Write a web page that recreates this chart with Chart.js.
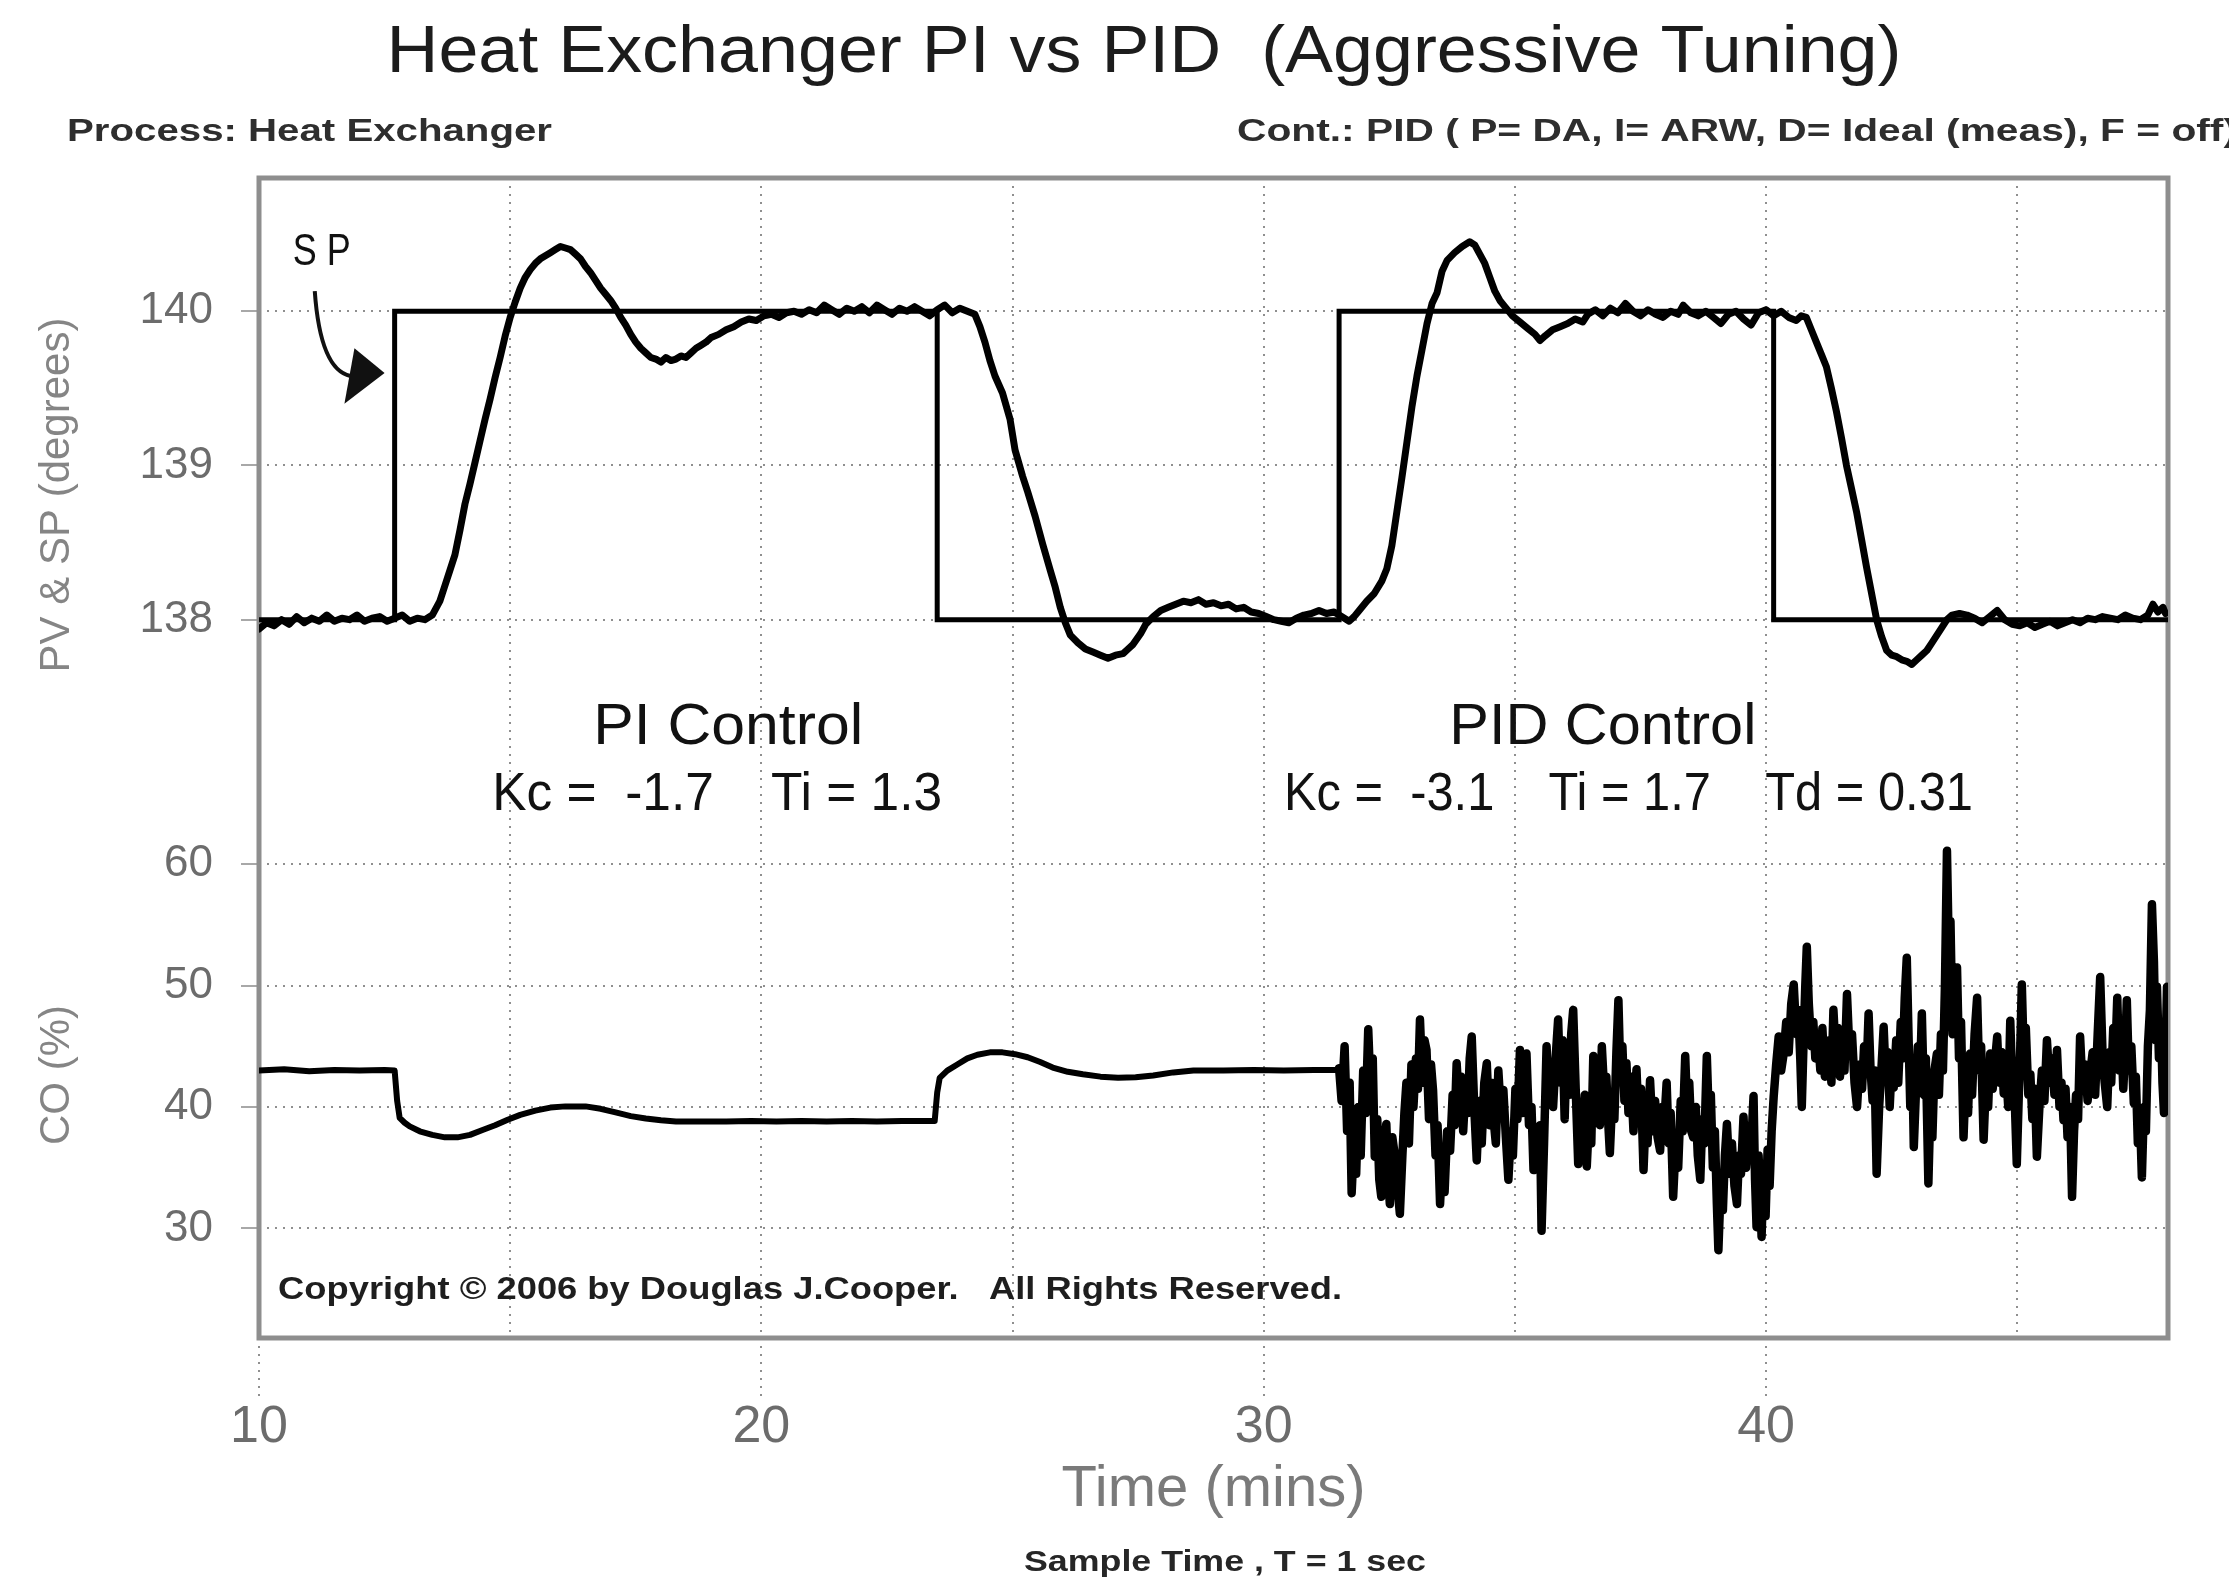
<!DOCTYPE html>
<html>
<head>
<meta charset="utf-8">
<title>Heat Exchanger PI vs PID</title>
<script src="https://cdn.jsdelivr.net/npm/chart.js@4.4.1/dist/chart.umd.min.js"></script>
<style>
    html, body { margin: 0; padding: 0; background: #ffffff; }
    canvas { display: block; }
</style>
</head>
<body>
<canvas id="chartHeatExchanger" width="2229" height="1583"></canvas>
<script>
// ---- data (time in minutes) ----
const xGridTicks = [10, 15, 20, 25, 30, 35, 40, 45];
const pvTicks = [138, 139, 140];
const coTicks = [30, 40, 50, 60];

// set point: corners of the step changes
const spPoints = [
    [10, 138], [12.7, 138], [12.7, 140], [23.5, 140], [23.5, 138],
    [31.5, 138], [31.5, 140], [40.15, 140], [40.15, 138], [48, 138]
];

// measured process variable (degrees)
const pvPoints = [
    [10.0, 137.94], [10.15, 137.98], [10.3, 137.96], [10.45, 138.00], [10.6, 137.97], [10.75, 138.02],
    [10.9, 137.98], [11.05, 138.01], [11.2, 137.99], [11.35, 138.03], [11.5, 137.99], [11.65, 138.01],
    [11.8, 138.00], [11.95, 138.03], [12.1, 137.99], [12.25, 138.01], [12.4, 138.02], [12.55, 137.99],
    [12.7, 138.01], [12.85, 138.03], [13.0, 137.99], [13.15, 138.01], [13.3, 138.00], [13.45, 138.03],
    [13.6, 138.12], [13.7, 138.22], [13.8, 138.32], [13.9, 138.42], [14.0, 138.58], [14.1, 138.75],
    [14.2, 138.88], [14.3, 139.02], [14.4, 139.16], [14.5, 139.30], [14.6, 139.43], [14.7, 139.57],
    [14.8, 139.70], [14.9, 139.84], [15.0, 139.96], [15.1, 140.06], [15.2, 140.15], [15.3, 140.22],
    [15.4, 140.27], [15.5, 140.31], [15.6, 140.34], [15.7, 140.36], [15.8, 140.38], [15.9, 140.40],
    [16.0, 140.42], [16.1, 140.41], [16.2, 140.40], [16.3, 140.37], [16.4, 140.34], [16.5, 140.29],
    [16.6, 140.25], [16.7, 140.20], [16.8, 140.15], [16.9, 140.11], [17.0, 140.07], [17.1, 140.02],
    [17.2, 139.96], [17.3, 139.91], [17.4, 139.85], [17.5, 139.80], [17.6, 139.76], [17.7, 139.73],
    [17.8, 139.70], [17.9, 139.69], [18.0, 139.67], [18.1, 139.70], [18.2, 139.68], [18.3, 139.69],
    [18.4, 139.71], [18.5, 139.70], [18.6, 139.73], [18.7, 139.76], [18.8, 139.78], [18.9, 139.80],
    [19.0, 139.83], [19.15, 139.85], [19.3, 139.88], [19.45, 139.90], [19.6, 139.93], [19.75, 139.95],
    [19.9, 139.94], [20.05, 139.97], [20.2, 139.98], [20.35, 139.96], [20.5, 139.99], [20.65, 140.00],
    [20.8, 139.98], [20.95, 140.01], [21.1, 139.99], [21.25, 140.04], [21.4, 140.01], [21.55, 139.98],
    [21.7, 140.02], [21.85, 140.00], [22.0, 140.03], [22.15, 139.99], [22.3, 140.04], [22.45, 140.01],
    [22.6, 139.98], [22.75, 140.02], [22.9, 140.00], [23.05, 140.03], [23.2, 140.00], [23.35, 139.97],
    [23.5, 140.01], [23.65, 140.04], [23.8, 139.99], [23.95, 140.02], [24.1, 140.00], [24.25, 139.98],
    [24.35, 139.90], [24.45, 139.80], [24.55, 139.68], [24.65, 139.58], [24.8, 139.47], [24.95, 139.30],
    [25.05, 139.10], [25.2, 138.93], [25.3, 138.83], [25.45, 138.67], [25.6, 138.49], [25.75, 138.32],
    [25.85, 138.21], [25.95, 138.08], [26.05, 137.98], [26.15, 137.90], [26.3, 137.85], [26.45, 137.81],
    [26.6, 137.79], [26.75, 137.77], [26.9, 137.75], [27.05, 137.77], [27.2, 137.78], [27.3, 137.81],
    [27.4, 137.84], [27.55, 137.91], [27.65, 137.97], [27.8, 138.02], [27.95, 138.06], [28.1, 138.08],
    [28.25, 138.10], [28.4, 138.12], [28.55, 138.11], [28.7, 138.13], [28.85, 138.10], [29.0, 138.11],
    [29.15, 138.09], [29.3, 138.10], [29.45, 138.07], [29.6, 138.08], [29.75, 138.05], [29.9, 138.04],
    [30.05, 138.02], [30.2, 138.00], [30.35, 137.99], [30.5, 137.98], [30.65, 138.01], [30.8, 138.03],
    [30.95, 138.04], [31.1, 138.06], [31.25, 138.04], [31.4, 138.05], [31.55, 138.02], [31.7, 137.99],
    [31.8, 138.02], [31.9, 138.06], [32.05, 138.12], [32.2, 138.17], [32.35, 138.25], [32.45, 138.33],
    [32.55, 138.48], [32.65, 138.70], [32.75, 138.92], [32.85, 139.15], [32.95, 139.38], [33.05, 139.58],
    [33.15, 139.75], [33.25, 139.92], [33.35, 140.05], [33.45, 140.12], [33.55, 140.26], [33.65, 140.33],
    [33.8, 140.38], [33.95, 140.42], [34.1, 140.45], [34.2, 140.43], [34.3, 140.37], [34.4, 140.31],
    [34.5, 140.22], [34.6, 140.13], [34.7, 140.07], [34.8, 140.03], [34.95, 139.97], [35.1, 139.93],
    [35.25, 139.89], [35.4, 139.85], [35.5, 139.81], [35.6, 139.84], [35.75, 139.88], [35.9, 139.90],
    [36.05, 139.92], [36.2, 139.95], [36.35, 139.93], [36.45, 139.98], [36.6, 140.01], [36.75, 139.97],
    [36.9, 140.02], [37.05, 139.99], [37.2, 140.05], [37.35, 140.00], [37.5, 139.97], [37.65, 140.01],
    [37.8, 139.98], [37.95, 139.96], [38.1, 140.00], [38.25, 139.98], [38.35, 140.04], [38.5, 139.99],
    [38.65, 139.97], [38.8, 140.00], [38.95, 139.96], [39.1, 139.92], [39.25, 139.98], [39.4, 140.00],
    [39.55, 139.95], [39.7, 139.91], [39.85, 139.99], [40.0, 140.01], [40.15, 139.97], [40.3, 140.00],
    [40.45, 139.96], [40.6, 139.94], [40.7, 139.97], [40.8, 139.96], [40.9, 139.88], [41.0, 139.80],
    [41.1, 139.72], [41.2, 139.64], [41.3, 139.50], [41.4, 139.35], [41.5, 139.18], [41.6, 139.00],
    [41.7, 138.85], [41.8, 138.70], [41.9, 138.52], [42.0, 138.34], [42.1, 138.17], [42.2, 138.00],
    [42.3, 137.89], [42.4, 137.80], [42.5, 137.77], [42.6, 137.76], [42.7, 137.74], [42.8, 137.73],
    [42.9, 137.71], [43.0, 137.74], [43.1, 137.77], [43.2, 137.80], [43.3, 137.85], [43.4, 137.90],
    [43.5, 137.95], [43.6, 138.00], [43.7, 138.03], [43.85, 138.04], [44.0, 138.03], [44.15, 138.01],
    [44.3, 137.98], [44.45, 138.02], [44.6, 138.06], [44.75, 138.00], [44.9, 137.97], [45.05, 137.96],
    [45.2, 137.98], [45.35, 137.95], [45.5, 137.97], [45.65, 137.99], [45.8, 137.96], [45.95, 137.98],
    [46.1, 138.00], [46.25, 137.98], [46.4, 138.01], [46.55, 138.00], [46.7, 138.02], [46.85, 138.01],
    [47.0, 138.00], [47.15, 138.03], [47.3, 138.01], [47.45, 138.00], [47.6, 138.03], [47.7, 138.10],
    [47.8, 138.05], [47.9, 138.08], [47.95, 138.04]
];

// controller output (%)
const coPoints = [
    [10.0, 43.0], [10.5, 43.1], [11.0, 42.95], [11.5, 43.05], [12.0, 43.0], [12.5, 43.05], [12.7, 43.0],
    [12.75, 40.5], [12.8, 39.1], [12.9, 38.7], [13.0, 38.4], [13.2, 38.0], [13.45, 37.7], [13.7, 37.5],
    [13.95, 37.5], [14.2, 37.7], [14.45, 38.1], [14.7, 38.5], [14.95, 38.95], [15.2, 39.35], [15.5, 39.7],
    [15.8, 39.95], [16.1, 40.05], [16.5, 40.05], [16.8, 39.85], [17.1, 39.55], [17.4, 39.25], [17.7, 39.05],
    [18.0, 38.9], [18.3, 38.8], [18.8, 38.8], [19.3, 38.8], [19.8, 38.85], [20.3, 38.8], [20.8, 38.85],
    [21.3, 38.8], [21.8, 38.85], [22.3, 38.8], [22.8, 38.85], [23.3, 38.85], [23.45, 38.85], [23.5, 41.2],
    [23.55, 42.4], [23.7, 43.0], [23.9, 43.5], [24.1, 44.0], [24.3, 44.3], [24.55, 44.5], [24.8, 44.5],
    [25.05, 44.35], [25.3, 44.1], [25.55, 43.7], [25.8, 43.25], [26.1, 42.9], [26.4, 42.7], [26.75, 42.5],
    [27.1, 42.4], [27.45, 42.45], [27.8, 42.6], [28.2, 42.85], [28.6, 43.0], [29.2, 43.0], [29.8, 43.05],
    [30.4, 43.0], [31.0, 43.05], [31.45, 43.05],
    [31.5, 43.2], [31.55, 40.5], [31.61, 45.0], [31.66, 38.0], [31.71, 42.0], [31.75, 32.9], [31.8, 37.5],
    [31.84, 34.5], [31.88, 40.0], [31.93, 36.0], [31.98, 43.0], [32.03, 39.5], [32.08, 46.4], [32.13, 41.0],
    [32.17, 44.0], [32.21, 35.9], [32.26, 39.0], [32.3, 34.0], [32.34, 32.6], [32.39, 36.5], [32.44, 38.6],
    [32.48, 34.0], [32.51, 32.0], [32.56, 37.5], [32.61, 36.0], [32.66, 33.5], [32.71, 31.2], [32.76, 36.0],
    [32.8, 39.5], [32.84, 42.0], [32.89, 37.0], [32.94, 43.5], [32.98, 40.0], [33.03, 44.0], [33.07, 41.5],
    [33.11, 47.2], [33.16, 42.0], [33.2, 45.5], [33.24, 44.7], [33.29, 39.0], [33.33, 43.5], [33.37, 41.4],
    [33.42, 36.0], [33.46, 38.5], [33.51, 32.0], [33.56, 36.5], [33.6, 33.0], [33.65, 38.0], [33.71, 36.4],
    [33.76, 41.0], [33.8, 38.5], [33.84, 43.6], [33.89, 40.0], [33.93, 42.5], [33.97, 38.0], [34.02, 42.0],
    [34.06, 39.5], [34.1, 44.0], [34.14, 45.8], [34.19, 40.0], [34.24, 35.6], [34.29, 40.5], [34.34, 37.0],
    [34.39, 42.0], [34.44, 43.6], [34.49, 38.5], [34.53, 42.0], [34.57, 39.2], [34.62, 37.0], [34.67, 43.0],
    [34.72, 39.5], [34.77, 41.4], [34.82, 37.5], [34.87, 34.0], [34.92, 38.0], [34.96, 36.0], [35.01, 41.5],
    [35.05, 39.0], [35.1, 44.7], [35.15, 39.5], [35.19, 42.0], [35.23, 44.4], [35.28, 38.5], [35.33, 40.0],
    [35.37, 34.8], [35.42, 38.0], [35.46, 35.0], [35.5, 38.5], [35.53, 29.8], [35.58, 37.0], [35.63, 45.0],
    [35.68, 40.5], [35.72, 43.0], [35.76, 40.0], [35.81, 44.0], [35.86, 47.2], [35.9, 42.0], [35.95, 45.5],
    [35.99, 39.0], [36.03, 44.7], [36.08, 41.0], [36.12, 46.0], [36.16, 48.0], [36.21, 41.5], [36.26, 35.3],
    [36.3, 40.0], [36.34, 37.5], [36.39, 41.0], [36.43, 35.1], [36.48, 39.5], [36.52, 37.0], [36.56, 44.2],
    [36.61, 40.0], [36.65, 43.0], [36.69, 38.5], [36.73, 45.0], [36.78, 41.0], [36.82, 42.5], [36.86, 38.5],
    [36.89, 36.2], [36.94, 41.0], [36.98, 39.0], [37.02, 44.5], [37.06, 48.8], [37.1, 42.5], [37.14, 45.0],
    [37.18, 40.5], [37.22, 43.6], [37.26, 39.5], [37.31, 42.5], [37.36, 38.0], [37.42, 43.1], [37.46, 39.0],
    [37.51, 41.5], [37.56, 34.8], [37.6, 39.0], [37.64, 37.0], [37.69, 42.2], [37.74, 38.0], [37.79, 40.5],
    [37.84, 37.5], [37.89, 36.4], [37.93, 40.0], [37.97, 38.5], [38.02, 42.0], [38.06, 37.0], [38.1, 39.5],
    [38.15, 32.6], [38.2, 37.0], [38.25, 35.0], [38.3, 40.5], [38.34, 38.0], [38.39, 44.2], [38.43, 39.5],
    [38.47, 42.0], [38.51, 38.0], [38.55, 37.5], [38.6, 40.0], [38.64, 36.0], [38.69, 34.0], [38.73, 39.0],
    [38.77, 37.0], [38.82, 44.2], [38.86, 39.0], [38.9, 41.0], [38.94, 35.0], [38.98, 38.0], [39.02, 32.0],
    [39.05, 28.2], [39.1, 34.0], [39.14, 31.5], [39.18, 36.0], [39.22, 38.6], [39.27, 34.5], [39.32, 37.0],
    [39.37, 33.5], [39.42, 32.0], [39.46, 36.0], [39.5, 34.5], [39.55, 39.2], [39.6, 35.0], [39.65, 38.0],
    [39.7, 36.5], [39.75, 40.9], [39.78, 34.0], [39.81, 30.1], [39.85, 36.0], [39.88, 33.0], [39.91, 29.3],
    [39.95, 35.0], [39.99, 31.0], [40.03, 36.5], [40.07, 33.5], [40.11, 38.0], [40.15, 40.8], [40.2, 43.5],
    [40.25, 45.8], [40.3, 43.0], [40.35, 44.4], [40.4, 47.0], [40.45, 44.5], [40.5, 48.5], [40.55, 50.1],
    [40.6, 46.0], [40.64, 48.0], [40.68, 44.0], [40.71, 40.0], [40.75, 46.0], [40.78, 50.0], [40.81, 53.2],
    [40.85, 48.5], [40.9, 45.0], [40.94, 47.0], [40.98, 44.0], [41.03, 46.0], [41.08, 43.0], [41.12, 46.5],
    [41.17, 42.5], [41.21, 44.0], [41.26, 45.5], [41.3, 42.0], [41.34, 48.0], [41.39, 44.0], [41.43, 46.5],
    [41.47, 42.5], [41.52, 45.0], [41.56, 43.0], [41.61, 49.3], [41.66, 44.5], [41.71, 46.0], [41.76, 42.0],
    [41.81, 40.0], [41.86, 43.5], [41.91, 41.5], [41.95, 45.0], [42.0, 43.0], [42.04, 47.7], [42.08, 43.0],
    [42.12, 40.5], [42.16, 43.0], [42.2, 34.5], [42.25, 40.0], [42.3, 43.5], [42.34, 46.6], [42.38, 42.5],
    [42.42, 44.5], [42.46, 40.0], [42.5, 43.5], [42.54, 41.6], [42.59, 45.5], [42.63, 42.0], [42.68, 47.0],
    [42.72, 44.0], [42.76, 49.0], [42.8, 52.3], [42.84, 45.0], [42.87, 40.0], [42.91, 43.5], [42.94, 36.7],
    [42.98, 41.0], [43.02, 45.0], [43.06, 42.0], [43.1, 47.7], [43.14, 41.0], [43.18, 44.0], [43.23, 33.7],
    [43.27, 40.0], [43.31, 37.5], [43.35, 43.0], [43.4, 44.4], [43.44, 41.0], [43.48, 46.0], [43.52, 43.0],
    [43.56, 50.0], [43.6, 61.1], [43.64, 52.0], [43.67, 55.3], [43.71, 46.0], [43.75, 48.5], [43.8, 51.5],
    [43.84, 44.0], [43.88, 47.0], [43.93, 37.5], [43.97, 42.0], [44.02, 39.5], [44.06, 44.4], [44.1, 41.0],
    [44.15, 46.0], [44.2, 49.0], [44.24, 43.0], [44.28, 45.0], [44.33, 37.3], [44.37, 41.5], [44.42, 40.0],
    [44.46, 44.4], [44.51, 41.5], [44.55, 43.5], [44.6, 45.8], [44.64, 42.0], [44.69, 44.5], [44.73, 41.1],
    [44.77, 43.5], [44.82, 40.0], [44.86, 47.1], [44.9, 42.0], [44.95, 40.5], [44.99, 35.3], [45.03, 41.0],
    [45.06, 45.0], [45.09, 50.1], [45.13, 44.0], [45.17, 46.5], [45.22, 41.0], [45.26, 42.7], [45.3, 39.0],
    [45.35, 41.5], [45.39, 35.9], [45.44, 40.0], [45.49, 43.0], [45.54, 40.5], [45.59, 45.5], [45.64, 42.0],
    [45.69, 44.0], [45.74, 41.0], [45.79, 44.7], [45.84, 40.0], [45.88, 42.0], [45.92, 38.9], [45.96, 41.5],
    [46.0, 37.5], [46.05, 40.0], [46.09, 32.6], [46.13, 38.0], [46.17, 41.0], [46.21, 39.0], [46.25, 45.8],
    [46.3, 41.5], [46.35, 43.5], [46.4, 40.5], [46.45, 42.7], [46.5, 44.5], [46.55, 41.0], [46.6, 46.0],
    [46.65, 50.7], [46.7, 44.0], [46.74, 42.0], [46.79, 40.0], [46.83, 44.5], [46.87, 42.0], [46.91, 46.5],
    [46.95, 44.0], [46.99, 49.0], [47.03, 43.0], [47.07, 46.0], [47.11, 41.5], [47.15, 45.0], [47.18, 48.8],
    [47.22, 43.0], [47.27, 45.0], [47.32, 40.3], [47.36, 42.5], [47.4, 37.0], [47.44, 39.5], [47.48, 34.2],
    [47.52, 40.0], [47.56, 38.0], [47.6, 45.0], [47.64, 48.0], [47.68, 56.7], [47.72, 52.0], [47.75, 45.5],
    [47.78, 49.9], [47.82, 44.0], [47.86, 47.0], [47.89, 42.0], [47.92, 39.5], [47.95, 44.0], [47.98, 49.9]
];

const FONT = "'Liberation Sans', Arial, Helvetica, sans-serif";
const FONT_NARROW = "'Liberation Sans Narrow', 'Liberation Sans', Arial, sans-serif";
const GRID = '#8f8f8f';
const PID_START = 31.5;

document.addEventListener("DOMContentLoaded", () => {
    renderChart();
});

// draws text squeezed/stretched to a given width (the original uses a condensed face)
function fitText(ctx, text, x, y, width, font, color, align) {
    ctx.save();
    ctx.font = font;
    ctx.fillStyle = color;
    ctx.textBaseline = 'middle';
    ctx.textAlign = align || 'center';
    const k = width / ctx.measureText(text).width;
    ctx.translate(x, y);
    ctx.scale(k, 1);
    ctx.fillText(text, 0, 0);
    ctx.restore();
}

const frameAndNotes = {
    id: 'frameAndNotes',
    beforeDatasetsDraw(chart) {
        const { ctx, chartArea: a } = chart;
        ctx.save();
        ctx.strokeStyle = '#8e8e8e';
        ctx.lineWidth = 5;
        ctx.strokeRect(a.left, a.top, a.right - a.left, a.bottom - a.top);
        ctx.restore();
    },
    afterDraw(chart) {
        const { ctx } = chart;
        const sx = chart.scales.x, pv = chart.scales.yPV, co = chart.scales.yCO;
        const px = t => sx.getPixelForValue(t);

        // headings
        fitText(ctx, 'Heat Exchanger PI vs PID  (Aggressive Tuning)', 1144, 54, 1515, `66px ${FONT_NARROW}`, '#1c1c1c');
        fitText(ctx, 'Process: Heat Exchanger', 67, 132, 485, `bold 32px ${FONT_NARROW}`, '#2e2e2e', 'left');
        fitText(ctx, 'Cont.: PID ( P= DA, I= ARW, D= Ideal (meas), F = off)', 1237, 132, 1000, `bold 32px ${FONT_NARROW}`, '#2e2e2e', 'left');
        fitText(ctx, 'Sample Time , T = 1 sec', 1225, 1563, 402, `bold 30px ${FONT_NARROW}`, '#262626');

        // SP label with curved arrow
        fitText(ctx, 'S P', px(11.25), pv.getPixelForValue(140.38), 58, `44px ${FONT}`, '#111');
        ctx.save();
        ctx.strokeStyle = '#111';
        ctx.fillStyle = '#111';
        ctx.lineWidth = 4;
        ctx.beginPath();
        ctx.moveTo(px(11.11), pv.getPixelForValue(140.13));
        ctx.quadraticCurveTo(px(11.22), pv.getPixelForValue(139.62), px(11.82), pv.getPixelForValue(139.58));
        ctx.stroke();
        ctx.beginPath();
        ctx.moveTo(px(12.5), pv.getPixelForValue(139.60));
        ctx.lineTo(px(11.90), pv.getPixelForValue(139.76));
        ctx.lineTo(px(11.70), pv.getPixelForValue(139.40));
        ctx.closePath();
        ctx.fill();
        ctx.restore();

        // controller labels
        fitText(ctx, 'PI Control', px(19.34), pv.getPixelForValue(137.30), 270, `58px ${FONT}`, '#111');
        fitText(ctx, 'Kc =  -1.7    Ti = 1.3', px(19.12), pv.getPixelForValue(136.86), 450, `54px ${FONT}`, '#111');
        fitText(ctx, 'PID Control', px(36.75), pv.getPixelForValue(137.30), 307, `58px ${FONT}`, '#111');
        fitText(ctx, 'Kc =  -3.1    Ti = 1.7    Td = 0.31', px(37.26), pv.getPixelForValue(136.86), 689, `54px ${FONT}`, '#111');

        fitText(ctx, 'Copyright © 2006 by Douglas J.Cooper.   All Rights Reserved.', px(10.38), co.getPixelForValue(24.9), 1064, `bold 32px ${FONT_NARROW}`, '#1e1e1e', 'left');
    }
};

function toXY(points) {
    return points.map(([t, v]) => ({ x: t, y: v }));
}

function renderChart() {
    const canvas = document.getElementById('chartHeatExchanger');
    if (!canvas) return;
    const ctx = canvas.getContext('2d');

    Chart.defaults.font.family = FONT;

    new Chart(ctx, {
        type: 'line',
        data: {
            datasets: [
                {
                    label: 'PV', data: toXY(pvPoints), yAxisID: 'yPV',
                    borderColor: '#000', borderWidth: 7, pointRadius: 0, tension: 0,
                    borderJoinStyle: 'round', borderCapStyle: 'round'
                },
                {
                    label: 'SP', data: toXY(spPoints), yAxisID: 'yPV',
                    borderColor: '#000', borderWidth: 5, pointRadius: 0, tension: 0
                },
                {
                    label: 'CO', data: toXY(coPoints), yAxisID: 'yCO',
                    borderColor: '#000', borderWidth: 6, pointRadius: 0, tension: 0,
                    borderJoinStyle: 'round', borderCapStyle: 'round',
                    // the noisy PID part looks like a heavier band in the original
                    segment: { borderWidth: c => (c.p0.parsed.x >= PID_START ? 8.5 : 6) }
                }
            ]
        },
        options: {
            responsive: false,
            animation: false,
            devicePixelRatio: 1,
            layout: { padding: { top: 178, right: 61, bottom: 55, left: 0 } },
            plugins: { legend: { display: false }, tooltip: { enabled: false }, title: { display: false } },
            scales: {
                x: {
                    type: 'linear', min: 10, max: 48,
                    afterBuildTicks: s => { s.ticks = xGridTicks.map(v => ({ value: v })); },
                    afterFit: s => { s.height = 190; },
                    ticks: {
                        autoSkip: false, maxRotation: 0, padding: 0, color: '#6c6c6c',
                        font: { size: 52, lineHeight: 1 },
                        callback: v => (v % 10 === 0 ? String(v) : '')
                    },
                    grid: {
                        color: GRID, lineWidth: 2, drawTicks: true, tickLength: 64, tickWidth: 2,
                        tickBorderDash: [2, 6],
                        tickColor: c => (c.tick && c.tick.value % 10 === 0) ? GRID : 'rgba(0,0,0,0)'
                    },
                    border: { display: false, dash: [2, 6] },
                    title: {
                        display: true, text: 'Time (mins)', color: '#7a7a7a',
                        font: { size: 58, lineHeight: 1 }, padding: { top: 0, bottom: 9 }
                    }
                },
                yPV: {
                    type: 'linear', position: 'left', stack: 'plot', stackWeight: 634, weight: 2,
                    min: 136.753, max: 140.864,
                    afterBuildTicks: s => { s.ticks = pvTicks.map(v => ({ value: v })); },
                    afterFit: s => { s.width = 259; },
                    ticks: { autoSkip: false, padding: 28, color: '#6c6c6c', font: { size: 44 } },
                    grid: { color: GRID, lineWidth: 2, tickLength: 18, tickWidth: 2, tickColor: '#a8a8a8' },
                    border: { display: false, dash: [2, 6] },
                    title: {
                        display: true, text: 'PV & SP (degrees)', color: '#858585',
                        font: { size: 42, lineHeight: 1 }, padding: { top: 36, bottom: 0 }
                    }
                },
                yCO: {
                    type: 'linear', position: 'left', stack: 'plot', stackWeight: 526, weight: 1,
                    min: 20.97, max: 64.30,
                    afterBuildTicks: s => { s.ticks = coTicks.map(v => ({ value: v })); },
                    afterFit: s => { s.width = 259; },
                    ticks: { autoSkip: false, padding: 28, color: '#6c6c6c', font: { size: 44 } },
                    grid: { color: GRID, lineWidth: 2, tickLength: 18, tickWidth: 2, tickColor: '#a8a8a8' },
                    border: { display: false, dash: [2, 6] },
                    title: {
                        display: true, text: 'CO (%)', color: '#858585',
                        font: { size: 42, lineHeight: 1 }, padding: { top: 36, bottom: 0 }
                    }
                }
            }
        },
        plugins: [frameAndNotes]
    });
}
</script>
</body>
</html>
